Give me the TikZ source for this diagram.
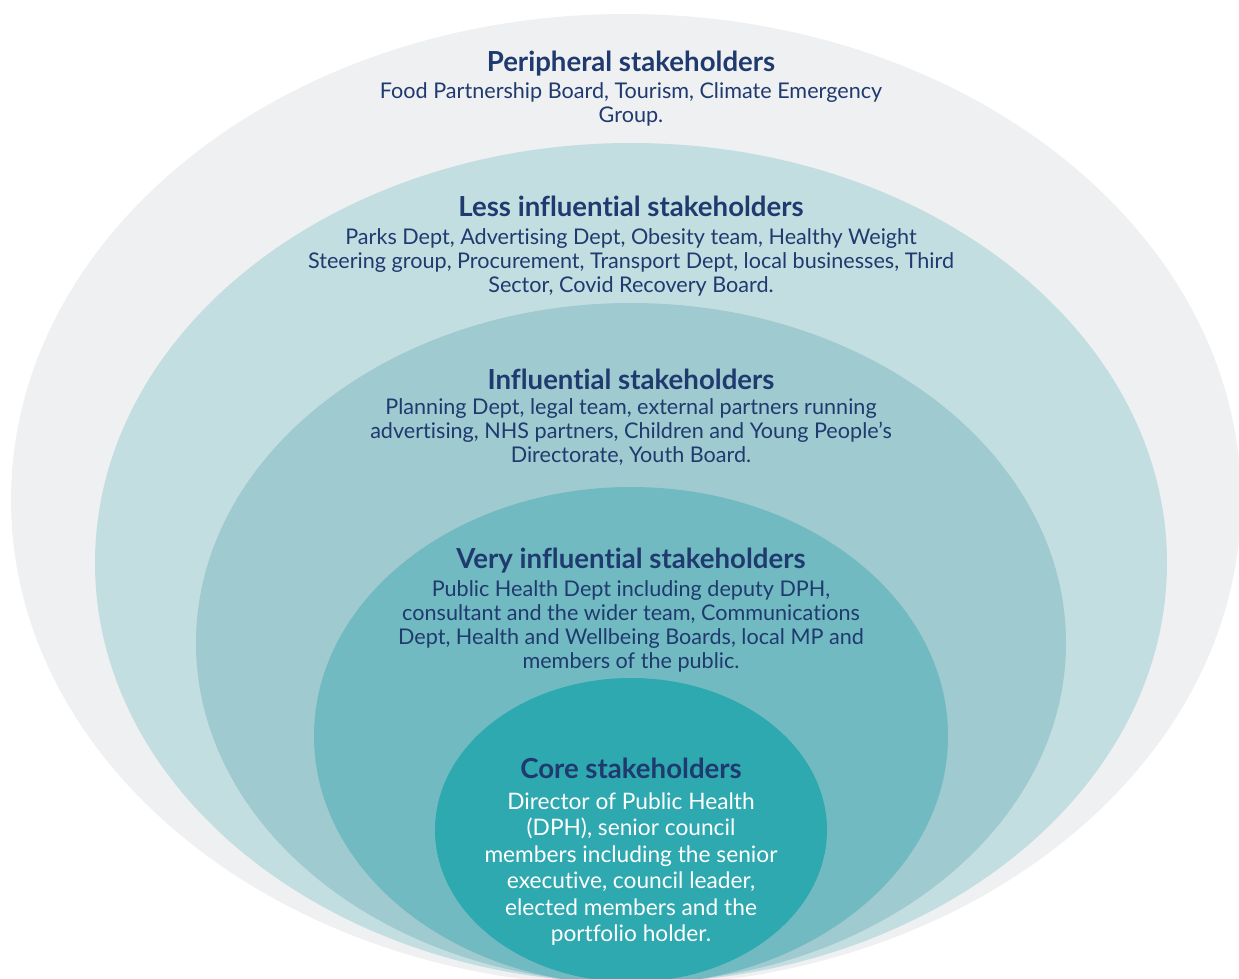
\documentclass[tikz,border=0pt]{standalone}
\usepackage{fontspec}
\setmainfont{Lato}[Ligatures=NoCommon]
\usepackage{xcolor}
\usepackage{tikz}
\usetikzlibrary{shapes.geometric,positioning}
\definecolor{ringA}{HTML}{EFF0F2}
\definecolor{ringB}{HTML}{C3DEE1}
\definecolor{ringC}{HTML}{9ECAD0}
\definecolor{ringD}{HTML}{72BAC1}
\definecolor{ringE}{HTML}{2EA9B0}
\definecolor{navy}{HTML}{1F3A6E}
\begin{document}
\begin{tikzpicture}[
    x=0.5pt, y=-0.5pt,
    ring/.style={ellipse, draw=none, inner sep=0pt},
    title/.style={font=\fontsize{13.8}{15}\selectfont\bfseries, text=navy, inner sep=0pt},
    body/.style={font=\fontsize{10.8}{12}\selectfont, text=navy, align=center, inner sep=0pt},
    corebody/.style={font=\fontsize{11.35}{13.25}\selectfont, text=white, align=center, inner sep=0pt}
]
    \useasboundingbox (0,0) rectangle (1239,979);
    \clip (0,0) rectangle (1239,979);

    % === nested rings (outermost first) ===
    \node[ring, fill=ringA, minimum width=615pt, minimum height=486pt] (peripheral) at (626,500) {};
    \node[ring, fill=ringB, minimum width=536pt, minimum height=420pt] (less) at (631,563) {};
    \node[ring, fill=ringC, minimum width=435pt, minimum height=340pt] (infl) at (631,643) {};
    \node[ring, fill=ringD, minimum width=317pt, minimum height=249pt] (very) at (631,736) {};
    \node[ring, fill=ringE, minimum width=196pt, minimum height=152pt] (core) at (631,830) {};

    % === labels ===
    \node[title] (periT) at (631,64) {Peripheral stakeholders};
    \node[body] (periB) at (631,104) {Food Partnership Board, Tourism, Climate Emergency\\Group.};

    \node[title] (lessT) at (631,206) {Less influential stakeholders};
    \node[body] (lessB) at (631,262) {Parks Dept, Advertising Dept, Obesity team, Healthy Weight\\Steering group, Procurement, Transport Dept, local businesses, Third\\Sector, Covid Recovery Board.};

    \node[title] (inflT) at (631,379) {Influential stakeholders};
    \node[body] (inflB) at (631,432) {Planning Dept, legal team, external partners running\\advertising, NHS partners, Children and Young People’s\\Directorate, Youth Board.};

    \node[title] (veryT) at (631,561) {Very influential stakeholders};
    \node[body] (veryB) at (631,626) {Public Health Dept including deputy DPH,\\consultant and the wider team, Communications\\Dept, Health and Wellbeing Boards, local MP and\\members of the public.};

    \node[title] (coreT) at (631,768) {Core stakeholders};
    \node[corebody] (coreB) at (631,869) {Director of Public Health\\(DPH), senior council\\members including the senior\\executive, council leader,\\elected members and the\\portfolio holder.};
\end{tikzpicture}
\end{document}
